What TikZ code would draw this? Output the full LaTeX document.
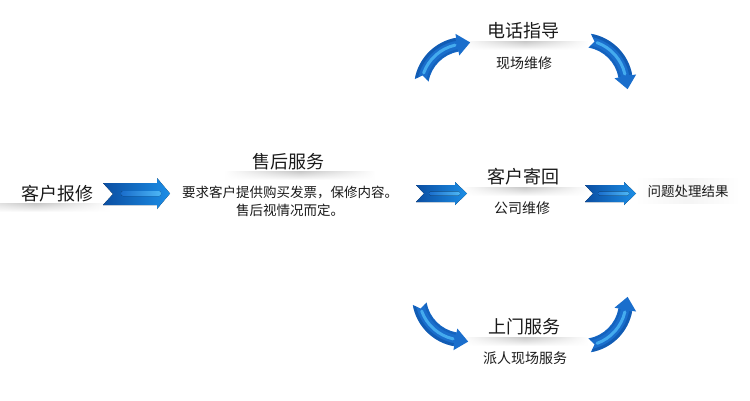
\documentclass[tikz,border=0pt]{standalone}
\usepackage{fontspec}
\setmainfont{Noto Sans CJK SC}
\usetikzlibrary{calc,fadings}
\definecolor{txt}{HTML}{1A1A1A}
\definecolor{adark}{HTML}{0B4EA2}
\definecolor{alight}{HTML}{1C8EE6}
\definecolor{astripe}{HTML}{4CB6F5}
\definecolor{cblue}{HTML}{1A6ECC}
\tikzfading[name=fadesides, left color=transparent!100, right color=transparent!100, middle color=transparent!0]
\newcommand\drawcurvarr{%
    \fill[cblue] (170:51) arc[start angle=170, end angle=100, radius=51]
      -- (100:55) -- ($(100:44)+(10:13)$) -- (100:33) -- (100:37)
      arc[start angle=100, end angle=170, radius=37]
      -- ($(170:44)+(80:5)$) -- cycle;
    \draw[adark, line width=3, opacity=0.55] (168:49.5) arc[start angle=168, end angle=101, radius=49.5];
    \draw[adark, line width=2, opacity=0.35] (168:38.5) arc[start angle=168, end angle=101, radius=38.5];
    \draw[astripe, line width=3, line cap=round, opacity=0.85] (160:44) arc[start angle=160, end angle=103, radius=44];
}
\begin{document}
\begin{tikzpicture}[x=1pt,y=-1pt,
  title/.style={font=\fontsize{18}{20}\selectfont, text=txt, inner sep=0pt},
  sub/.style={font=\fontsize{14}{16}\selectfont, text=txt, inner sep=0pt},
  desc/.style={font=\fontsize{13.5}{17.5}\selectfont, text=txt, align=center, inner sep=0pt},
  chev/.style={left color=adark, right color=alight, draw=none},
  stripe/.style={left color=cblue, right color=astripe, draw=none},
  band/.style={top color=black!22, bottom color=white, path fading=fadesides}]
\useasboundingbox[fill=white] (0,0) rectangle (750,400);

% shadow bands
\shade[band] (-40,203) rectangle (110,212);
\shade[band] (225,171) rectangle (375,180);
\shade[band] (462,41) rectangle (588,50);
\shade[band] (462,187) rectangle (588,196);
\shade[band] (462,337) rectangle (588,346);
\fill[black!4, path fading=fadesides] (638,178) rectangle (738,204);

% texts
\node[title] (n1) at (57,194) {客户报修};
\node[title] (n2t) at (288,162) {售后服务};
\node[desc] (n2d) at (290,201.5) {要求客户提供购买发票，保修内容。\\售后视情况而定。};
\node[title] (n3t) at (523,177) {客户寄回};
\node[sub] (n3s) at (522,208) {公司维修};
\node[sub, font=\fontsize{13.5}{16}\selectfont] (n4) at (688,191) {问题处理结果};
\node[title] (u1) at (523,31) {电话指导};
\node[sub] (u2) at (524,63) {现场维修};
\node[title] (d1) at (524,327) {上门服务};
\node[sub] (d2) at (525,358) {派人现场服务};

% chevron arrows
\fill[chev] (103,183) -- (157,183) -- (157,178) -- (170,193.5) -- (157,209) -- (157,205) -- (103,205) -- (113,194) -- cycle;
\fill[stripe, rounded corners=2pt] (121,191) rectangle (161,196);
\fill[chev] (416,185) -- (455,185) -- (455,182) -- (467,193.5) -- (455,205) -- (455,202) -- (416,202) -- (424,193.5) -- cycle;
\fill[stripe, rounded corners=2pt] (429,191.5) rectangle (460,195.5);
\fill[chev] (585,185) -- (624,185) -- (624,182) -- (636,193.5) -- (624,205) -- (624,202) -- (585,202) -- (593,193.5) -- cycle;
\fill[stripe, rounded corners=2pt] (598,191.5) rectangle (629,195.5);

% curved arrows
\begin{scope}[shift={(465,88)}, yscale=-1]
  \drawcurvarr
\end{scope}
\begin{scope}[shift={(582,84)}, rotate=-90, yscale=-1]
  \drawcurvarr
\end{scope}
\begin{scope}[shift={(463,296)}]
  \drawcurvarr
\end{scope}
\begin{scope}[shift={(582,302)}, rotate=90]
  \drawcurvarr
\end{scope}
\end{tikzpicture}
\end{document}
